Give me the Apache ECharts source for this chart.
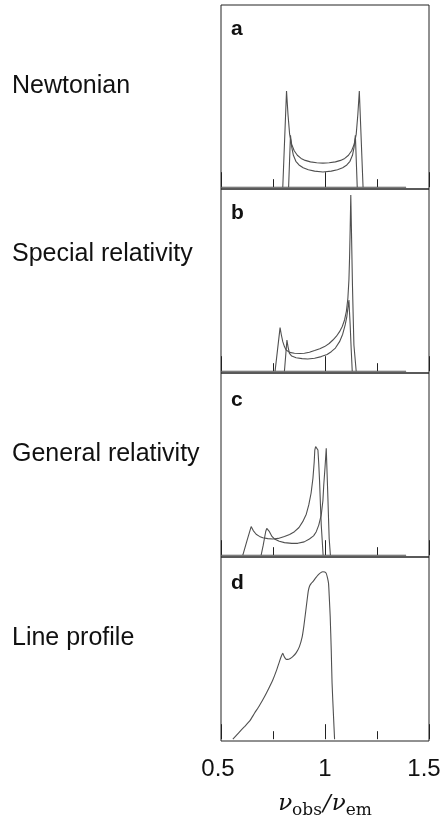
<!DOCTYPE html>
<html><head><meta charset="utf-8">
<script src="https://cdn.jsdelivr.net/npm/echarts@6/dist/echarts.min.js"></script>
<style>html,body{margin:0;padding:0;background:#fff}#c{width:444px;height:823px}</style>
</head><body><div id="c"></div>
<script>
// ---- data ----
const xTickLabels = [0.5, 1, 1.5];
const panelLetters = ['a', 'b', 'c', 'd'];
const panelNames = ['Newtonian', 'Special relativity', 'General relativity', 'Line profile'];

// baseline (zero flux) drawn in panels a-c
const baseX = [0.5, 1.39];
const baseY = [0, 0];

// panel a: Newtonian
const aOuterX = [0.797,0.815,0.822,0.830,0.840,0.852,0.867,0.885,0.905,0.930,0.960,0.990,1.020,1.050,1.075,1.095,1.113,1.128,1.140,1.150,1.158,1.165,1.183];
const aOuterY = [0,52.8,40,29,23.5,20,17.5,15.8,14.7,13.9,13.4,13.2,13.4,13.9,14.7,15.8,17.5,20,23.5,29,40,52.8,0];
const aInnerX = [0.825,0.834,0.840,0.848,0.860,0.875,0.895,0.920,0.950,0.990,1.030,1.060,1.085,1.105,1.120,1.132,1.140,1.146,1.155];
const aInnerY = [0,28.5,22,17.5,14.2,12.2,10.7,9.6,8.8,8.3,8.8,9.6,10.7,12.2,14.2,17.5,22,28.5,0];

// panel b: special relativity
const bOuterX = [0.760,0.784,0.790,0.797,0.805,0.813,0.830,0.853,0.880,0.901,0.925,0.950,0.975,0.998,1.020,1.038,1.055,1.070,1.083,1.094,1.103,1.110,1.115,1.118,1.121,1.124,1.128,1.132,1.136,1.139,1.150];
const bOuterY = [0,23.9,20,16.2,13.5,11.6,10.3,9.8,9.7,9.8,10.4,11.3,12.3,13.5,15.2,17.1,19.2,21.7,24.5,28.1,33,40,50,62,78,96.7,72,47.3,28,14.4,0];
const bInnerX = [0.805,0.812,0.817,0.822,0.829,0.840,0.861,0.890,0.917,0.950,0.982,1.010,1.030,1.050,1.070,1.085,1.097,1.105,1.110,1.115,1.118,1.121,1.126,1.131];
const bInnerY = [0,10,17.1,13.5,9.8,8.3,7.4,6.9,6.7,7.1,8.0,9.2,10.7,12.7,16.2,20.3,25.4,30,34.5,39.1,32,25.4,12,0];

// panel c: general relativity
const cOuterX = [0.605,0.625,0.645,0.655,0.669,0.685,0.701,0.725,0.749,0.775,0.805,0.830,0.853,0.875,0.893,0.910,0.922,0.933,0.942,0.948,0.951,0.955,0.960,0.966,0.970,0.974,0.978,0.982,0.991];
const cOuterY = [0,8,15.7,13.5,11.5,10.3,9.6,9.1,8.9,9.2,10.2,11.4,12.9,15.2,18.4,22.5,27.6,34,42.2,51,57.7,59.6,59.6,57.7,50,40.4,28,16.6,0];
const cInnerX = [0.693,0.703,0.709,0.715,0.720,0.726,0.733,0.745,0.757,0.780,0.805,0.840,0.869,0.900,0.925,0.945,0.958,0.970,0.982,0.990,0.994,1.000,1.006,1.010,1.014,1.017,1.020,1.026];
const cInnerY = [0,5.5,9.3,13,14.7,13.9,12.9,10.3,8.9,7.6,6.9,6.5,6.5,7.3,8.9,10.6,12.9,16.5,22.1,30,38.5,48,58.7,45,31.2,20,9.3,0];

// panel d: line profile
const dX = [0.557,0.585,0.613,0.640,0.661,0.685,0.709,0.730,0.749,0.766,0.781,0.790,0.797,0.803,0.809,0.815,0.821,0.833,0.845,0.862,0.877,0.890,0.898,0.906,0.914,0.920,0.926,0.934,0.942,0.955,0.966,0.978,0.990,0.999,1.006,1.012,1.017,1.021,1.025,1.030,1.034,1.041,1.046];
const dY = [0,3.5,6.9,10.3,14.2,18.5,23.3,28,32.5,37.5,42.6,45.5,47.1,45.5,44.4,43.8,43.8,44.3,45.3,47.5,50.8,56,61.8,69,76.4,81.5,84.1,85.5,86.5,88.5,90.1,91.3,91.9,91.8,91.0,88.5,85.5,77,67.3,49.0,30.7,12.4,0];

// ---- chart ----
const zip = (xs, ys) => xs.map((x, i) => [x, ys[i]]);
const panelTops = [5, 189, 373, 557];
const panelH = 184;
const curveColor = '#505050';
const frameColor = '#222';

const grids = panelTops.map(t => ({
  left: 221, width: 208, top: t, height: panelH,
  show: true, borderColor: frameColor, borderWidth: 1, backgroundColor: 'transparent',
  containLabel: false
}));

const xAxes = panelTops.map((t, i) => ({
  gridIndex: i, type: 'value', min: 0.5, max: 1.5, interval: 0.5,
  axisLine: { show: false },
  axisTick: { show: true, inside: true, length: 15, lineStyle: { color: frameColor, width: 1 } },
  minorTick: { show: true, splitNumber: 2, length: 8, lineStyle: { color: frameColor, width: 1 } },
  splitLine: { show: false }, minorSplitLine: { show: false },
  axisLabel: {
    show: i === 3, margin: 16, showMinLabel: true, showMaxLabel: true,
    formatter: v => v === xTickLabels[0] ? '{l|' + v + '}' : (v === xTickLabels[2] ? '{r|' + v + '}' : '{m|' + v + '}'),
    rich: {
      l: { fontFamily: 'Liberation Sans', fontSize: 24, color: '#111', padding: [0, 6, 0, 0] },
      m: { fontFamily: 'Liberation Sans', fontSize: 24, color: '#111' },
      r: { fontFamily: 'Liberation Sans', fontSize: 24, color: '#111', padding: [0, 10, 0, 0] }
    }
  },
  name: i === 3 ? '{v|ν}{s|obs}{sl|/}{v|ν}{s|em}' : '',
  nameLocation: 'middle', nameGap: 48,
  nameTextStyle: {
    rich: {
      v: { fontFamily: 'DejaVu Serif', fontStyle: 'italic', fontSize: 23, lineHeight: 30, verticalAlign: 'middle', color: '#111' },
      s: { fontFamily: 'DejaVu Serif', fontSize: 17, lineHeight: 16, verticalAlign: 'bottom', color: '#111' },
      sl: { fontFamily: 'DejaVu Serif', fontStyle: 'italic', fontSize: 23, lineHeight: 30, verticalAlign: 'middle', color: '#111', padding: [0, 1, 0, 1] }
    }
  }
}));

const yAxes = panelTops.map((t, i) => ({
  gridIndex: i, type: 'value', min: -1, max: 100, show: false
}));

function line(i, xs, ys, smooth) {
  return {
    type: 'line', xAxisIndex: i, yAxisIndex: i, data: zip(xs, ys),
    showSymbol: false, symbol: 'none', smooth: smooth || false, silent: true,
    lineStyle: { color: curveColor, width: 1.1 }, animation: false
  };
}

const series = [
  line(0, baseX, baseY), line(0, aOuterX, aOuterY), line(0, aInnerX, aInnerY),
  line(1, baseX, baseY), line(1, bOuterX, bOuterY), line(1, bInnerX, bInnerY),
  line(2, baseX, baseY), line(2, cOuterX, cOuterY), line(2, cInnerX, cInnerY),
  line(3, dX, dY, 0.2)
];

const nameY = [86, 254, 454, 638];
const letterY = [29, 213.5, 400, 583.5];
const graphic = [];
panelNames.forEach((n, i) => graphic.push({
  type: 'text', x: 12, y: nameY[i], silent: true,
  style: { text: n, fontFamily: 'Liberation Sans', fontSize: 25, fill: '#111', align: 'left', verticalAlign: 'middle' }
}));
panelLetters.forEach((n, i) => graphic.push({
  type: 'text', x: 231, y: letterY[i], silent: true,
  style: { text: n, fontFamily: 'Liberation Sans', fontWeight: 'bold', fontSize: 21, fill: '#111', align: 'left', verticalAlign: 'middle' }
}));

const chart = echarts.init(document.getElementById('c'), null, { renderer: 'canvas' });
chart.setOption({
  animation: false,
  backgroundColor: '#fff',
  grid: grids, xAxis: xAxes, yAxis: yAxes, series: series, graphic: graphic
});
</script></body></html>
